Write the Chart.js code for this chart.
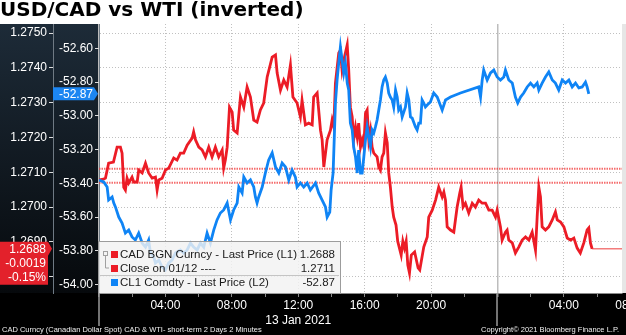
<!DOCTYPE html>
<html><head><meta charset="utf-8">
<script src="https://cdn.jsdelivr.net/npm/chart.js@4"></script>
<style>html,body{margin:0;padding:0;background:#fff;overflow:hidden}canvas{display:block}</style>
</head><body>
<canvas id="c" width="626" height="335"></canvas>
<script>
// ---------- data (hours after 13 Jan 2021 00:00) ----------
const titleText = 'USD/CAD vs WTI (inverted)';

const cadTimes = [
 0,0.27,0.39,0.58,0.87,1.09,1.29,1.39,1.49,1.59,
 1.69,1.79,1.99,2.09,2.30,2.39,2.60,2.80,2.99,3.20,
 3.40,3.50,3.60,3.80,4.00,4.20,4.50,4.70,4.90,5.10,
 5.31,5.61,5.70,5.81,6.01,6.21,6.41,6.61,6.81,7.01,
 7.21,7.42,7.51,7.61,7.72,7.86,8.02,8.11,8.32,8.52,
 8.72,8.92,9.12,9.32,9.52,9.72,9.92,10.13,10.43,10.63,
 10.73,10.93,11.13,11.33,11.53,11.68,11.93,12.13,12.23,12.43,
 12.63,12.84,12.93,13.14,13.34,13.44,13.54,13.74,13.94,14.04,
 14.14,14.24,14.44,14.54,14.64,14.74,14.95,15.04,15.14,15.25,
 15.34,15.45,15.55,15.64,15.75,15.85,15.95,16.05,16.15,16.25,
 16.35,16.45,16.55,16.75,16.85,16.95,17.05,17.15,17.25,17.36,
 17.45,17.55,17.66,17.75,17.89,17.99,18.20,18.30,18.40,18.50,
 18.60,18.70,18.81,19.01,19.22,19.32,19.56,19.77,19.86,20.07,
 20.27,20.46,20.67,20.77,20.87,20.97,21.17,21.37,21.57,21.73,
 21.81,21.93,22.07,22.27,22.48,22.67,22.87,23.08,23.28,23.48,
 23.68,23.88,23.98,24.18,24.28,24.48,24.58,24.68,24.89,25.08,
 25.28,25.49,25.69,25.89,26.09,26.29,26.39,26.49,26.59,26.69,
 26.89,27.09,27.30,27.49,27.60,27.80,28.00,28.20,28.40,28.60,
 28.80,28.99,29.20,29.40,29.50,29.60,29.70
];
const cadValues = [
 1.27078,1.27080,1.27083,1.27126,1.27129,1.27172,1.27172,1.27155,1.27057,1.27049,
 1.27083,1.27069,1.27086,1.27072,1.27072,1.27106,1.27098,1.27126,1.27098,1.27083,
 1.27086,1.27049,1.27078,1.27083,1.27106,1.27112,1.27141,1.27135,1.27155,1.27155,
 1.27178,1.27198,1.27216,1.27193,1.27172,1.27164,1.27144,1.27172,1.27144,1.27172,
 1.27144,1.27164,1.27112,1.27135,1.27172,1.27287,1.27273,1.27221,1.27213,1.27316,
 1.27287,1.27345,1.27316,1.27250,1.27244,1.27279,1.27299,1.27374,1.27431,1.27437,
 1.27385,1.27336,1.27365,1.27345,1.27408,1.27316,1.27299,1.27259,1.27307,1.27236,
 1.27241,1.27236,1.27316,1.27328,1.27221,1.27193,1.27115,1.27193,1.27221,1.27250,
 1.27230,1.27356,1.27443,1.27451,1.27394,1.27422,1.27466,1.27394,1.27287,1.27259,
 1.27193,1.27230,1.27201,1.27241,1.27172,1.27193,1.27172,1.27270,1.27279,1.27193,
 1.27221,1.27172,1.27155,1.27144,1.27115,1.27106,1.27144,1.27155,1.27213,1.27184,
 1.27098,1.27057,1.27000,1.26971,1.26948,1.26902,1.26862,1.26902,1.26882,1.26902,
 1.26833,1.26810,1.26862,1.26871,1.26825,1.26819,1.26885,1.26914,1.26971,1.26991,
 1.27020,1.27057,1.27029,1.27043,1.27020,1.26943,1.26934,1.26928,1.27000,1.27040,
 1.27057,1.27000,1.27011,1.26983,1.27011,1.27000,1.27020,1.27011,1.27011,1.26991,
 1.26991,1.26971,1.26991,1.26943,1.26905,1.26928,1.26934,1.26905,1.26897,1.26868,
 1.26885,1.26905,1.26914,1.26905,1.26928,1.26876,1.26971,1.27057,1.27029,1.26943,
 1.26934,1.26943,1.26963,1.26986,1.26963,1.26957,1.26943,1.26911,1.26905,1.26911,
 1.26882,1.26868,1.26897,1.26934,1.26940,1.26897,1.26880
];

const wtiTimes = [
 0,0.28,0.49,0.58,0.79,0.89,0.99,1.19,1.39,1.59,
 1.79,1.99,2.19,2.39,2.60,2.80,2.99,3.10,3.30,3.40,
 3.60,3.80,4.00,4.20,4.40,4.60,4.90,5.10,5.31,5.51,
 5.70,5.91,6.11,6.31,6.51,6.71,6.91,7.11,7.31,7.51,
 7.72,7.92,8.11,8.32,8.42,8.62,8.72,8.92,9.12,9.32,
 9.42,9.52,9.62,9.83,10.02,10.22,10.43,10.63,10.83,11.03,
 11.23,11.43,11.63,11.83,11.93,12.13,12.33,12.54,12.73,13.04,
 13.23,13.44,13.64,13.74,13.90,13.98,14.10,14.24,14.34,14.44,
 14.54,14.64,14.74,14.84,14.95,15.04,15.14,15.25,15.34,15.45,
 15.55,15.64,15.75,15.85,15.95,16.05,16.15,16.25,16.35,16.45,
 16.55,16.65,16.75,16.85,16.95,17.05,17.15,17.25,17.36,17.45,
 17.55,17.66,17.75,17.86,17.96,18.05,18.16,18.26,18.46,18.56,
 18.66,18.76,18.86,19.06,19.16,19.26,19.36,19.46,19.56,19.66,
 19.77,19.96,20.16,20.37,20.67,20.87,21.17,21.47,21.77,22.87,
 22.98,23.08,23.17,23.38,23.58,23.78,23.98,24.18,24.38,24.48,
 24.68,24.89,25.08,25.22,25.39,25.58,25.79,25.99,26.19,26.39,
 26.49,26.69,26.89,27.09,27.30,27.49,27.69,27.90,28.10,28.30,
 28.50,28.70,28.90,29.10,29.30,29.40,29.50
];
const wtiValues = [
 -53.380,-53.392,-53.422,-53.499,-53.481,-53.517,-53.540,-53.600,-53.635,-53.695,
 -53.677,-53.718,-53.736,-53.695,-53.754,-53.778,-53.736,-53.813,-53.837,-53.872,
 -53.855,-53.896,-53.914,-53.872,-53.855,-53.813,-53.795,-53.813,-53.795,-53.754,
 -53.778,-53.795,-53.754,-53.778,-53.695,-53.754,-53.677,-53.617,-53.576,-53.558,
 -53.517,-53.617,-53.558,-53.517,-53.422,-53.457,-53.363,-53.398,-53.380,-53.422,
 -53.481,-53.517,-53.481,-53.422,-53.339,-53.262,-53.220,-53.303,-53.339,-53.280,
 -53.303,-53.380,-53.321,-53.363,-53.422,-53.398,-53.422,-53.398,-53.440,-53.398,
 -53.457,-53.499,-53.540,-53.600,-53.570,-53.440,-53.339,-52.924,-52.788,-52.687,
 -52.592,-52.669,-52.746,-52.687,-52.806,-52.847,-53.043,-53.084,-53.185,-53.244,
 -53.339,-53.203,-53.339,-53.339,-53.244,-53.143,-53.066,-53.126,-53.185,-53.084,
 -53.102,-53.066,-53.025,-52.966,-52.906,-52.829,-52.788,-52.770,-52.806,-52.865,
 -52.889,-52.906,-52.948,-52.847,-52.889,-52.966,-52.948,-53.007,-52.948,-52.865,
 -52.906,-53.007,-53.013,-53.066,-53.084,-53.043,-53.043,-52.906,-52.924,-52.948,
 -52.936,-52.918,-52.865,-52.889,-52.966,-52.906,-52.889,-52.877,-52.865,-52.829,
 -52.889,-52.788,-52.729,-52.788,-52.746,-52.729,-52.770,-52.788,-52.770,-52.729,
 -52.788,-52.806,-52.889,-52.924,-52.889,-52.865,-52.829,-52.806,-52.829,-52.806,
 -52.847,-52.806,-52.770,-52.740,-52.788,-52.806,-52.847,-52.788,-52.806,-52.788,
 -52.829,-52.806,-52.835,-52.829,-52.800,-52.829,-52.870
];

const closeOn0112 = 1.2711;     // dotted "Close on 01/12"
const prevReference = 1.2707;   // second dotted line / change base
const l1TickValues = [1.2680,1.2690,1.2700,1.2710,1.2720,1.2730,1.2740,1.2750];
const l2TickValues = [-54.00,-53.80,-53.60,-53.40,-53.20,-53.00,-52.80,-52.60];
const xTickHours = [0,2,4,6,8,10,12,14,16,18,20,22,24,26,28,30,32];
const xTickLabels = {4:'04:00',8:'08:00',12:['12:00','13 Jan 2021'],16:'16:00',20:'20:00',28:'04:00',32:'08:00'};
const dayBoundaries = [0,24];
const legendLabels = ['CAD BGN Curncy - Last Price (L1)','Close on 01/12 ----','CL1 Comdty - Last Price (L2)'];
const footerLeft = 'CAD Curncy (Canadian Dollar Spot) CAD & WTI- short-term 2 Days 2 Minutes';
const footerRight = 'Copyright\u00A9 2021 Bloomberg Finance L.P.';

// axis ranges
const X_MIN = 0, X_MAX = 31.5;
const L1_MIN = 1.26753, L1_MAX = 1.27526;
const L2_MIN = -54.05, L2_MAX = -52.456;

// ---------- styles ----------
const RED = '#ec1c26', BLUE = '#0f84f5';
const FONT = 'Liberation Sans, Arial, sans-serif';

const lastCad = cadValues[cadValues.length-1];
const lastWti = wtiValues[wtiValues.length-1];
const lastCadT = cadTimes[cadTimes.length-1];

const bgPlugin = {
  id:'bg',
  beforeDraw(chart){
    const {ctx, chartArea:a, width, height} = chart;
    ctx.save();
    ctx.fillStyle = '#fff'; ctx.fillRect(0,0,width,height);
    const g = ctx.createLinearGradient(0,a.top,0,a.bottom);
    g.addColorStop(0,'#1d2b38'); g.addColorStop(1,'#06090c');
    ctx.fillStyle = g; ctx.fillRect(0,a.top,a.left,a.bottom-a.top);
    ctx.fillStyle = '#000'; ctx.fillRect(0,a.bottom,width,height-a.bottom);
    ctx.fillStyle = '#e6e6e6'; ctx.fillRect(a.right,a.top,width-a.right,a.bottom-a.top);
    ctx.restore();
  }
};

const overlayPlugin = {
  id:'overlay',
  afterDraw(chart){
    const {ctx, chartArea:a, scales, width, height} = chart;
    ctx.save();
    // day separators extending into axis area
    ctx.strokeStyle = '#9a9a9a'; ctx.lineWidth = 1.5;
    dayBoundaries.forEach(h=>{
      const x = Math.round(scales.x.getPixelForValue(h));
      ctx.beginPath(); ctx.moveTo(x, a.bottom); ctx.lineTo(x, a.bottom+33); ctx.stroke();
    });
    // legend box
    const lx = a.left-1, ly = a.bottom-52, lw = 243, lh = 53;
    ctx.fillStyle = 'rgba(242,242,242,0.82)';
    ctx.fillRect(lx,ly,lw,lh);
    ctx.strokeStyle = '#9c9c9c'; ctx.lineWidth = 1;
    ctx.strokeRect(lx+0.5,ly+0.5,lw-1,lh-1);
    const rows = [ly+13, ly+27, ly+41];
    ctx.beginPath(); ctx.moveTo(lx+2, ly+34.5); ctx.lineTo(lx+lw-2, ly+34.5); ctx.strokeStyle='#c4c4c4'; ctx.stroke();
    // tree connector
    ctx.strokeStyle = '#a0a0a0';
    ctx.strokeRect(lx+5.5, rows[0]-2.5, 4, 4);
    ctx.beginPath(); ctx.moveTo(lx+7.5, rows[0]+2); ctx.lineTo(lx+7.5, rows[1]); ctx.lineTo(lx+11, rows[1]); ctx.stroke();
    const colors = [RED, RED, BLUE];
    const vals = [lastCad.toFixed(4), closeOn0112.toFixed(4), lastWti.toFixed(2)];
    ctx.font = '11.5px ' + FONT; ctx.textBaseline = 'middle';
    rows.forEach((y,i)=>{
      ctx.fillStyle = colors[i]; ctx.fillRect(lx+13, y-3, 7, 7);
      ctx.fillStyle = '#1a1a1a'; ctx.textAlign = 'left';
      ctx.fillText(legendLabels[i], lx+22, y+0.5);
      ctx.textAlign = 'right'; ctx.fillText(vals[i], lx+lw-6, y+0.5);
    });
    // red last-price box on L1
    const ry = scales.yL1.getPixelForValue(lastCad);
    const chg = lastCad - prevReference;
    const pct = chg / prevReference * 100;
    ctx.fillStyle = '#e3212b';
    ctx.beginPath();
    ctx.moveTo(0, ry-7); ctx.lineTo(48, ry-7); ctx.lineTo(52, ry); ctx.lineTo(48, ry+7);
    ctx.lineTo(48, ry+36); ctx.lineTo(0, ry+36); ctx.closePath(); ctx.fill();
    ctx.fillStyle = '#fff'; ctx.font = '12px ' + FONT; ctx.textAlign = 'right';
    ctx.fillText(lastCad.toFixed(4), 46, ry+0.5);
    ctx.fillText(chg.toFixed(4), 46, ry+14.5);
    ctx.fillText(pct.toFixed(2)+'%', 46, ry+28.5);
    // blue last-price box on L2
    const by = scales.yL2.getPixelForValue(lastWti);
    const bl = scales.yL2.left, br = scales.yL2.right;
    ctx.fillStyle = '#1c86f2';
    ctx.beginPath();
    ctx.moveTo(bl, by-6.5); ctx.lineTo(br-5, by-6.5); ctx.lineTo(br-1, by); ctx.lineTo(br-5, by+6.5); ctx.lineTo(bl, by+6.5); ctx.closePath(); ctx.fill();
    ctx.fillStyle = '#fff'; ctx.fillText(lastWti.toFixed(2), br-6, by+0.5);
    // footer
    ctx.font = '7.5px ' + FONT; ctx.fillStyle = '#f0f0f0'; ctx.textBaseline = 'alphabetic';
    ctx.textAlign = 'left'; ctx.fillText(footerLeft, 2, height-3);
    ctx.textAlign = 'right'; ctx.fillText(footerRight, width-7, height-3);
    ctx.restore();
  }
};

const yAxisBase = (min,max,ticksArr,width,fmt,weight,grid) => ({
  type:'linear', position:'left', min, max, weight,
  afterBuildTicks: s => { s.ticks = ticksArr.map(v=>({value:v})); },
  afterFit: s => { s.width = width; s.paddingTop = 0; s.paddingBottom = 0; },
  ticks:{ color:'#fff', font:{family:FONT,size:12}, padding:2, callback: v => fmt(v), autoSkip:false, includeBounds:false },
  grid:{ drawOnChartArea:grid, color:'#c0c0c0', tickColor:'#ddd', tickLength:4, lineWidth:1 },
  border:{ display:true, color:'#6f7a84', width:1, dash: grid ? [1,2] : [] }
});

new Chart(document.getElementById('c'), {
  type:'line',
  data:{ datasets:[
    { label:'CL1 Comdty', data: wtiTimes.map((t,i)=>({x:t,y:wtiValues[i]})), yAxisID:'yL2', borderColor:BLUE, borderWidth:2.8, pointRadius:0, tension:0 },
    { label:'CAD BGN Curncy', data: cadTimes.map((t,i)=>({x:t,y:cadValues[i]})), yAxisID:'yL1', borderColor:RED, borderWidth:2.8, pointRadius:0, tension:0 },
    { label:'Last', data:[{x:lastCadT,y:lastCad},{x:X_MAX,y:lastCad}], yAxisID:'yL1', borderColor:'#f05a5a', borderWidth:1.2, pointRadius:0 },
    { label:'Close', data:[{x:X_MIN,y:closeOn0112},{x:X_MAX,y:closeOn0112}], yAxisID:'yL1', borderColor:'rgba(240,60,60,0.75)', borderWidth:2, borderDash:[1.5,1], pointRadius:0 },
    { label:'Ref', data:[{x:X_MIN,y:prevReference},{x:X_MAX,y:prevReference}], yAxisID:'yL1', borderColor:'rgba(240,60,60,0.75)', borderWidth:2, borderDash:[1.5,1], pointRadius:0 }
  ]},
  options:{
    responsive:false, animation:false, devicePixelRatio:1,
    layout:{ padding:{left:0,right:4,top:0,bottom:0} },
    plugins:{
      legend:{display:false}, tooltip:{enabled:false},
      title:{ display:true, text:titleText, align:'start', color:'#000',
        font:{family:'DejaVu Sans, Verdana, sans-serif', size:20, weight:'bold', lineHeight:1.1},
        padding:{top:0,bottom:2} }
    },
    scales:{
      x:{ type:'linear', min:X_MIN, max:X_MAX,
        afterBuildTicks: s => { s.ticks = xTickHours.map(v=>({value:v})); },
        afterFit: s => { s.height = 42; s.paddingLeft = 0; s.paddingRight = 0; },
        ticks:{ color:'#fff', font:{family:FONT,size:12,lineHeight:1.25}, padding:1, autoSkip:false, maxRotation:0, minRotation:0,
          callback: v => xTickLabels[v] !== undefined ? xTickLabels[v] : '' },
        grid:{ color: c => (c.tick && dayBoundaries.includes(c.tick.value)) ? '#bdbdbd' : ((c.tick && c.tick.value % 4 === 0) ? '#c0c0c0' : 'rgba(0,0,0,0)'),
          lineWidth: c => (c.tick && dayBoundaries.includes(c.tick.value)) ? 1.5 : 1,
          tickColor:'#8a8a8a', tickLength:4 },
        border:{ display:true, color:'#8a8a8a', dash: c => (c.tick && dayBoundaries.includes(c.tick.value)) ? [] : [1,2] }
      },
      yL1: yAxisBase(L1_MIN, L1_MAX, l1TickValues, 53, v => v.toFixed(4), 2, true),
      yL2: yAxisBase(L2_MIN, L2_MAX, l2TickValues, 46, v => v.toFixed(2), 1, false)
    }
  },
  plugins:[bgPlugin, overlayPlugin]
});
</script>
</body></html>
